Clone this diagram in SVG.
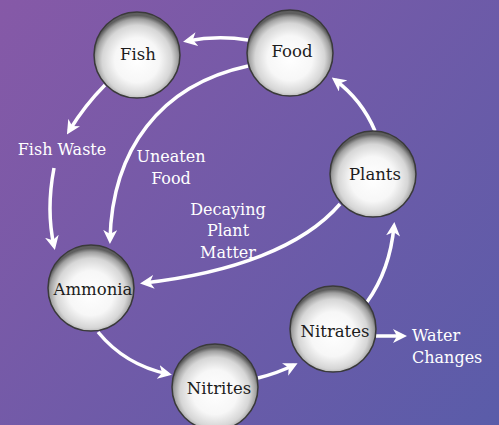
<svg xmlns="http://www.w3.org/2000/svg" width="499" height="425" viewBox="0 0 499 425">
<defs>
<linearGradient id="bg" x1="0" y1="0" x2="499" y2="425" gradientUnits="userSpaceOnUse">
<stop offset="0" stop-color="#8659a7"/>
<stop offset="1" stop-color="#5a5ca9"/>
</linearGradient>
<radialGradient id="ball" cx="50%" cy="56%" r="52%">
<stop offset="0" stop-color="#ffffff"/>
<stop offset="0.5" stop-color="#f7f7f7"/>
<stop offset="0.78" stop-color="#d6d6d6"/>
<stop offset="0.92" stop-color="#a0a0a0"/>
<stop offset="1" stop-color="#5e5e5e"/>
</radialGradient>
<marker id="ah" viewBox="0 0 14 14" markerWidth="14" markerHeight="14" refX="10" refY="7" orient="auto" markerUnits="userSpaceOnUse">
<path d="M0,0 L14,7 L0,14 L4,7 Z" fill="#ffffff"/>
</marker>
<style>
.node circle{fill:url(#ball);stroke:#3a3a3a;stroke-width:1.5}
.node text{font-family:"DejaVu Serif","Liberation Serif",serif;font-size:16.5px;fill:#1c1c1c;text-anchor:middle}
.lbl{font-family:"DejaVu Serif","Liberation Serif",serif;font-size:16px;fill:#ffffff}
#connectors path{fill:none;stroke:#ffffff;stroke-width:3.5;marker-end:url(#ah)}
</style>
</defs>
<rect x="0" y="0" width="499" height="425" fill="url(#bg)"/>
<g id="connectors">
<path d="M248,40 Q218,35 187,41"/>
<path d="M105,85 Q85,105 69,131"/>
<path d="M54,168 Q46,210 54,246"/>
<path d="M248,66 C160,85 112,150 110,240"/>
<path d="M340,204 C303,247 232,273 144,283"/>
<path d="M375,131 Q362,100 335,80"/>
<path d="M98,332 Q125,365 168,374"/>
<path d="M258,378 Q278,373 294,365"/>
<path d="M367,302 Q390,270 394,226"/>
<path d="M376,336 L403,336"/>
</g>
<g id="labels">
<text class="lbl" x="62" y="155" text-anchor="middle">Fish Waste</text>
<text class="lbl" x="171" y="162" text-anchor="middle">Uneaten</text>
<text class="lbl" x="171" y="184" text-anchor="middle">Food</text>
<text class="lbl" x="228" y="215" text-anchor="middle">Decaying</text>
<text class="lbl" x="228" y="236" text-anchor="middle">Plant</text>
<text class="lbl" x="228" y="258" text-anchor="middle">Matter</text>
<text class="lbl" x="412" y="341">Water</text>
<text class="lbl" x="412" y="363">Changes</text>
</g>
<g id="fish" class="node"><circle cx="137" cy="55" r="43"/><text x="138" y="60">Fish</text></g>
<g id="food" class="node"><circle cx="290" cy="53" r="43"/><text x="292" y="57">Food</text></g>
<g id="plants" class="node"><circle cx="373" cy="174" r="43"/><text x="375" y="180">Plants</text></g>
<g id="ammonia" class="node"><circle cx="91" cy="288" r="43"/><text x="93" y="295">Ammonia</text></g>
<g id="nitrites" class="node"><circle cx="215" cy="387" r="43"/><text x="219" y="394">Nitrites</text></g>
<g id="nitrates" class="node"><circle cx="333" cy="329" r="43"/><text x="335" y="337">Nitrates</text></g>
</svg>
